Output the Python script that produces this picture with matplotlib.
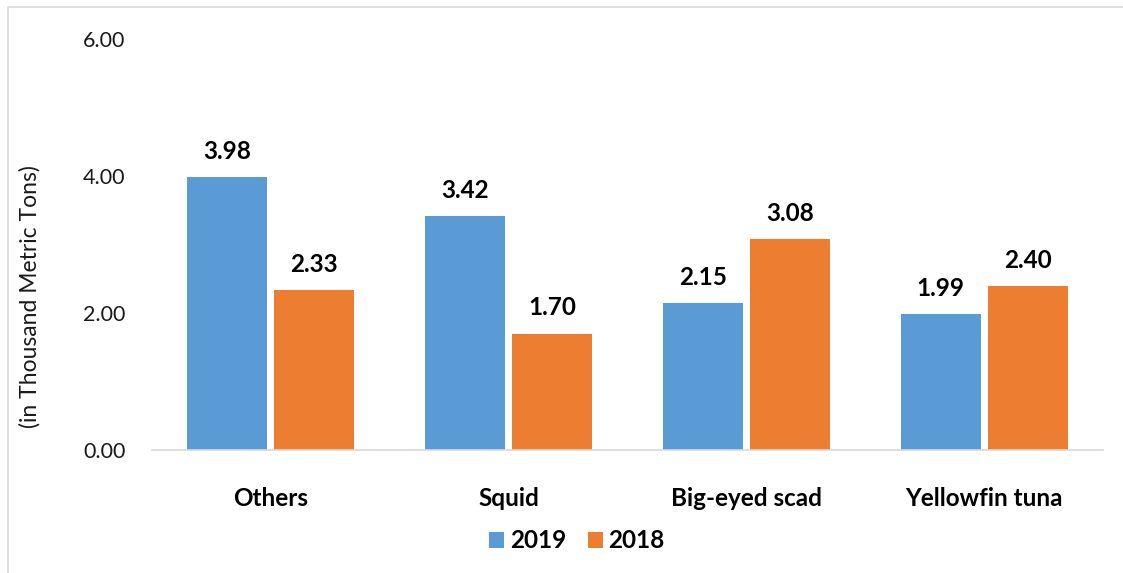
import matplotlib.pyplot as plt
import numpy as np
from matplotlib.patches import Rectangle

categories = ['Others', 'Squid', 'Big-eyed scad', 'Yellowfin tuna']
values_2019 = [3.98, 3.42, 2.15, 1.99]
values_2018 = [2.33, 1.70, 3.08, 2.40]
series_names = ['2019', '2018']
y_ticks = [0, 2, 4, 6]

plt.rcParams['font.family'] = ['Lato', 'DejaVu Sans']

BLUE = '#5B9BD5'
ORANGE = '#ED7D31'
GREY = '#D9D9D9'


def draw_bars(ax):
    x = np.arange(len(categories))
    w = 0.336
    off = 0.183
    b1 = ax.bar(x - off, values_2019, w, color=BLUE, label=series_names[0])
    b2 = ax.bar(x + off, values_2018, w, color=ORANGE, label=series_names[1])
    for bars in (b1, b2):
        for rect in bars:
            h = rect.get_height()
            ax.annotate(f'{h:.2f}', (rect.get_x() + rect.get_width() / 2, h),
                        xytext=(0, 13), textcoords='offset points',
                        ha='center', va='baseline', fontsize=17.5,
                        fontweight='bold', color='#000000')
    ax.set_xticks(x)
    ax.set_xticklabels(categories, fontsize=17.5, fontweight='bold')
    ax.set_xlim(-0.5, len(categories) - 0.5)


def main():
    fig = plt.figure(figsize=(11.23, 5.73), dpi=100)
    ax = fig.add_axes([152 / 1123, 1 - 450 / 573, 951 / 1123, 411 / 573])
    draw_bars(ax)

    ax.set_ylim(0, 6)
    ax.set_yticks(y_ticks)
    ax.set_yticklabels([f'{v:.2f}' for v in y_ticks], fontsize=15.5, color='#1a1a1a')
    ax.tick_params(axis='y', length=0, pad=19)
    ax.tick_params(axis='x', length=0, pad=27)
    for s in ('top', 'right', 'left'):
        ax.spines[s].set_visible(False)
    ax.spines['bottom'].set_color(GREY)
    ax.spines['bottom'].set_linewidth(1.2)

    fig.text(30 / 1123, 1 - 297 / 573, '(in Thousand Metric Tons)', rotation=90,
             ha='center', va='center', fontsize=16.5, color='#1a1a1a')

    fig.legend(loc='center', bbox_to_anchor=(577 / 1123, 1 - 541 / 573), ncol=2,
               frameon=False, prop={'size': 17.5, 'weight': 'bold'},
               handlelength=0.6, handleheight=0.6, handletextpad=0.25,
               columnspacing=0.9)

    fig.patches.append(Rectangle((8 / 1123, -0.05), 1.1, 1 - 7 / 573 + 0.05,
                                 transform=fig.transFigure, fill=False,
                                 edgecolor=GREY, linewidth=1.2))

    fig.savefig('out.png', dpi=100)


if __name__ == '__main__':
    main()
